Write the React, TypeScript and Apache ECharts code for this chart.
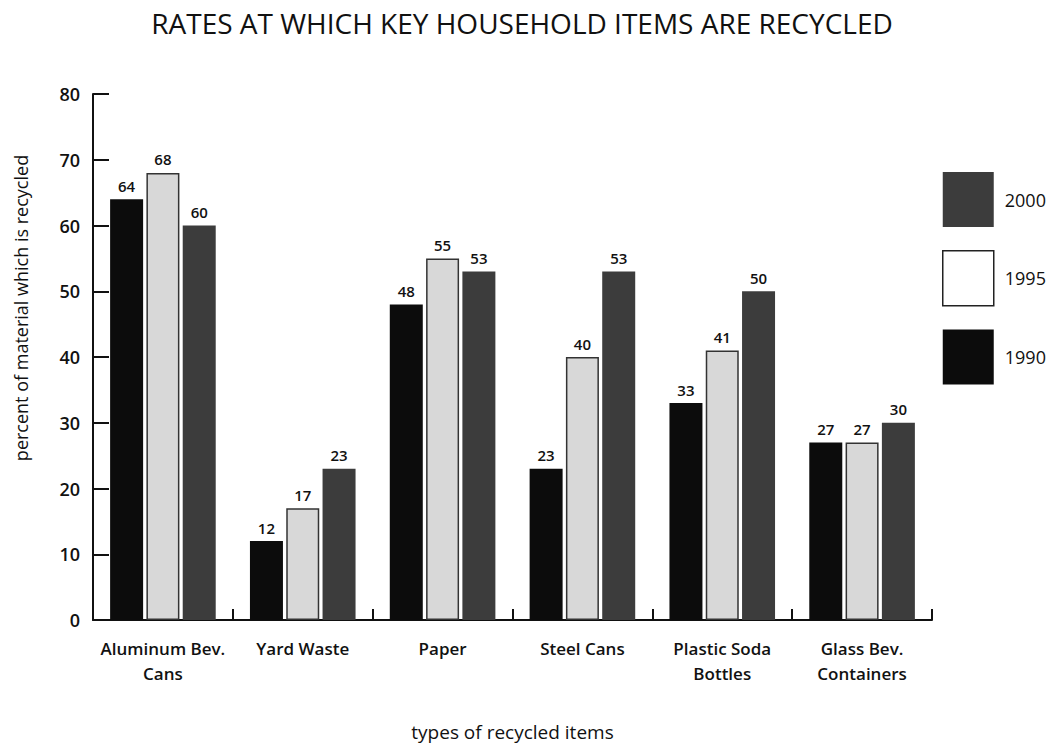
import React, { useEffect, useRef } from "react";
import * as echarts from "echarts";

const categories = [
  "Aluminum Bev.\nCans",
  "Yard Waste",
  "Paper",
  "Steel Cans",
  "Plastic Soda\nBottles",
  "Glass Bev.\nContainers",
];
const seriesNames = ["1990", "1995", "2000"];
const values1990 = [64, 12, 48, 23, 33, 27];
const values1995 = [68, 17, 55, 40, 41, 27];
const values2000 = [60, 23, 53, 53, 50, 30];
const yTicks = [0, 10, 20, 30, 40, 50, 60, 70, 80];
const legendOrder = ["2000", "1995", "1990"];
const yAxisTitle = "percent of material which is recycled";

const FONT = "'Open Sans', 'Noto Sans', sans-serif";

export default function App() {
  const ref = useRef<HTMLDivElement>(null);
  useEffect(() => {
    if (!ref.current) return;
    const chart = echarts.init(ref.current, null, { renderer: "svg" });
    const colors: Record<string, string> = {
      "1990": "#0c0c0c",
      "1995": "#d8d8d8",
      "2000": "#3c3c3c",
    };
    const allValues = [values1990, values1995, values2000];
    chart.setOption({
      animation: false,
      backgroundColor: "#ffffff",
      textStyle: { fontFamily: FONT, color: "#111" },
      title: {
        text: "RATES AT WHICH KEY HOUSEHOLD ITEMS ARE RECYCLED",
        left: 517,
        textAlign: "center",
        top: 4,
        textStyle: { fontFamily: FONT, fontSize: 28, fontWeight: "normal", color: "#111" },
      },
      legend: {
        data: legendOrder.map((n) => ({
          name: n,
          itemStyle:
            n === "1995"
              ? { color: "#ffffff", borderColor: "#222", borderWidth: 1.5 }
              : { color: colors[n] },
        })),
        orient: "vertical",
        left: 942,
        top: 172,
        padding: 0,
        itemWidth: 51,
        itemHeight: 55,
        itemGap: 23,
        icon: "rect",
        textStyle: { fontFamily: FONT, fontSize: 18, color: "#111", padding: [8, 0, 0, 6] },
      },
      graphic: [
        {
          type: "text",
          x: 21,
          y: 308,
          rotation: Math.PI / 2,
          style: {
            text: yAxisTitle,
            fontFamily: FONT,
            fontSize: 18,
            fill: "#111",
            align: "center",
            verticalAlign: "middle",
          },
        },
      ],
      grid: { left: 93, right: 124, top: 94, bottom: 130, containLabel: false },
      xAxis: {
        type: "category",
        data: categories,
        name: "types of recycled items",
        nameLocation: "middle",
        nameGap: 102,
        nameTextStyle: { fontFamily: FONT, fontSize: 19, color: "#111" },
        axisLine: { lineStyle: { color: "#111", width: 2 } },
        axisTick: { show: true, inside: true, length: 11, lineStyle: { color: "#111", width: 2 } },
        axisLabel: {
          fontFamily: FONT,
          fontSize: 17,
          fontWeight: 600,
          color: "#111",
          margin: 16,
          lineHeight: 25,
          interval: 0,
        },
      },
      yAxis: {
        type: "value",
        min: yTicks[0],
        max: yTicks[yTicks.length - 1],
        interval: 10,
        splitLine: { show: false },
        axisLine: { show: true, lineStyle: { color: "#111", width: 2 } },
        axisTick: { show: true, inside: true, length: 16, lineStyle: { color: "#111", width: 2 } },
        axisLabel: { fontFamily: FONT, fontSize: 18, fontWeight: 600, color: "#111", margin: 13 },
      },
      series: seriesNames.map((name, i) => ({
        name,
        type: "bar",
        data: allValues[i],
        barWidth: 33,
        barGap: "10%",
        itemStyle: {
          color: colors[name],
          borderColor: name === "1995" ? "#333" : colors[name],
          borderWidth: name === "1995" ? 1.5 : 0,
        },
        label: {
          show: true,
          position: "top",
          distance: 6,
          fontFamily: FONT,
          fontSize: 15,
          fontWeight: 600,
          color: "#111",
        },
      })),
    });
    return () => chart.dispose();
  }, []);
  return (
    <div
      ref={ref}
      style={{ position: "absolute", left: 0, top: 0, width: 1056, height: 750 }}
    />
  );
}
